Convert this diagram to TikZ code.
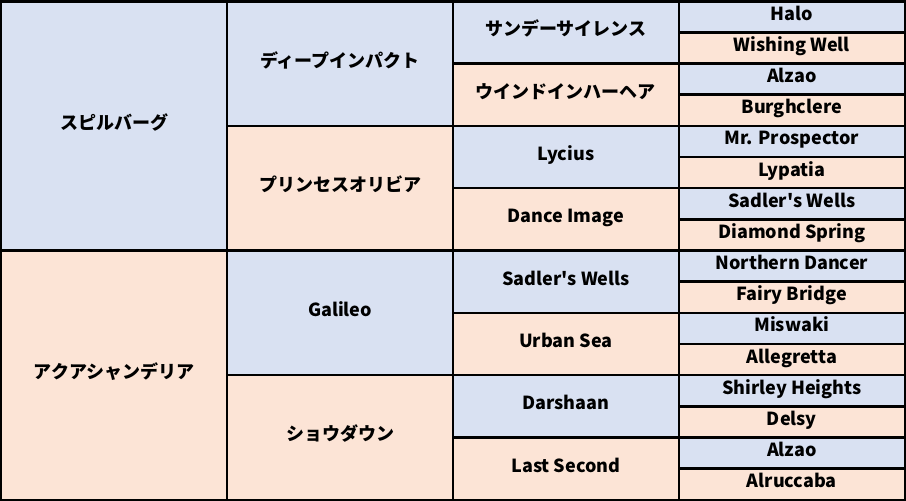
\documentclass[tikz,border=0pt]{standalone}
\usepackage{fontspec}
\setmainfont{Noto Sans CJK JP}
\usepackage{xcolor}
\usepackage{tikz}
\definecolor{sirecol}{HTML}{D9E1F2}
\definecolor{damcol}{HTML}{FCE4D6}

\begin{document}
\begin{tikzpicture}[
  x=225.875pt, y=-31.156pt,
  cell/.style={rectangle, draw=black, line width=2.5pt, outer sep=0pt, inner sep=0pt,
               minimum width=225.875pt, text centered, text height=12pt, text depth=5pt,
               font=\fontsize{18}{21}\selectfont\bfseries},
  sire/.style={cell, fill=sirecol},
  dam/.style={cell, fill=damcol},
  g1/.style={minimum height=249.25pt},
  g2/.style={minimum height=124.625pt},
  g3/.style={minimum height=62.312pt},
  g4/.style={minimum height=31.156pt}
]
\useasboundingbox (-1.25pt,1.25pt) rectangle (904.75pt,-499.75pt);

% --- parents ---
\node[sire, g1] (S)  at (0.5,4)  {スピルバーグ};
\node[dam,  g1] (D)  at (0.5,12) {アクアシャンデリア};

% --- grandparents ---
\node[sire, g2] (SS) at (1.5,2)  {ディープインパクト};
\node[dam,  g2] (SD) at (1.5,6)  {プリンセスオリビア};
\node[sire, g2] (DS) at (1.5,10) {Galileo};
\node[dam,  g2] (DD) at (1.5,14) {ショウダウン};

% --- great-grandparents ---
\node[sire, g3] (SSS) at (2.5,1)  {サンデーサイレンス};
\node[dam,  g3] (SSD) at (2.5,3)  {ウインドインハーヘア};
\node[sire, g3] (SDS) at (2.5,5)  {Lycius};
\node[dam,  g3] (SDD) at (2.5,7)  {Dance Image};
\node[sire, g3] (DSS) at (2.5,9)  {Sadler\textquotesingle s Wells};
\node[dam,  g3] (DSD) at (2.5,11) {Urban Sea};
\node[sire, g3] (DDS) at (2.5,13) {Darshaan};
\node[dam,  g3] (DDD) at (2.5,15) {Last Second};

% --- 4th generation ---
\node[sire, g4] (SSSS) at (3.5,0.5)  {Halo};
\node[dam,  g4] (SSSD) at (3.5,1.5)  {Wishing Well};
\node[sire, g4] (SSDS) at (3.5,2.5)  {Alzao};
\node[dam,  g4] (SSDD) at (3.5,3.5)  {Burghclere};
\node[sire, g4] (SDSS) at (3.5,4.5)  {Mr. Prospector};
\node[dam,  g4] (SDSD) at (3.5,5.5)  {Lypatia};
\node[sire, g4] (SDDS) at (3.5,6.5)  {Sadler\textquotesingle s Wells};
\node[dam,  g4] (SDDD) at (3.5,7.5)  {Diamond Spring};
\node[sire, g4] (DSSS) at (3.5,8.5)  {Northern Dancer};
\node[dam,  g4] (DSSD) at (3.5,9.5)  {Fairy Bridge};
\node[sire, g4] (DSDS) at (3.5,10.5) {Miswaki};
\node[dam,  g4] (DSDD) at (3.5,11.5) {Allegretta};
\node[sire, g4] (DDSS) at (3.5,12.5) {Shirley Heights};
\node[dam,  g4] (DDSD) at (3.5,13.5) {Delsy};
\node[sire, g4] (DDDS) at (3.5,14.5) {Alzao};
\node[dam,  g4] (DDDD) at (3.5,15.5) {Alruccaba};

\end{tikzpicture}
\end{document}
